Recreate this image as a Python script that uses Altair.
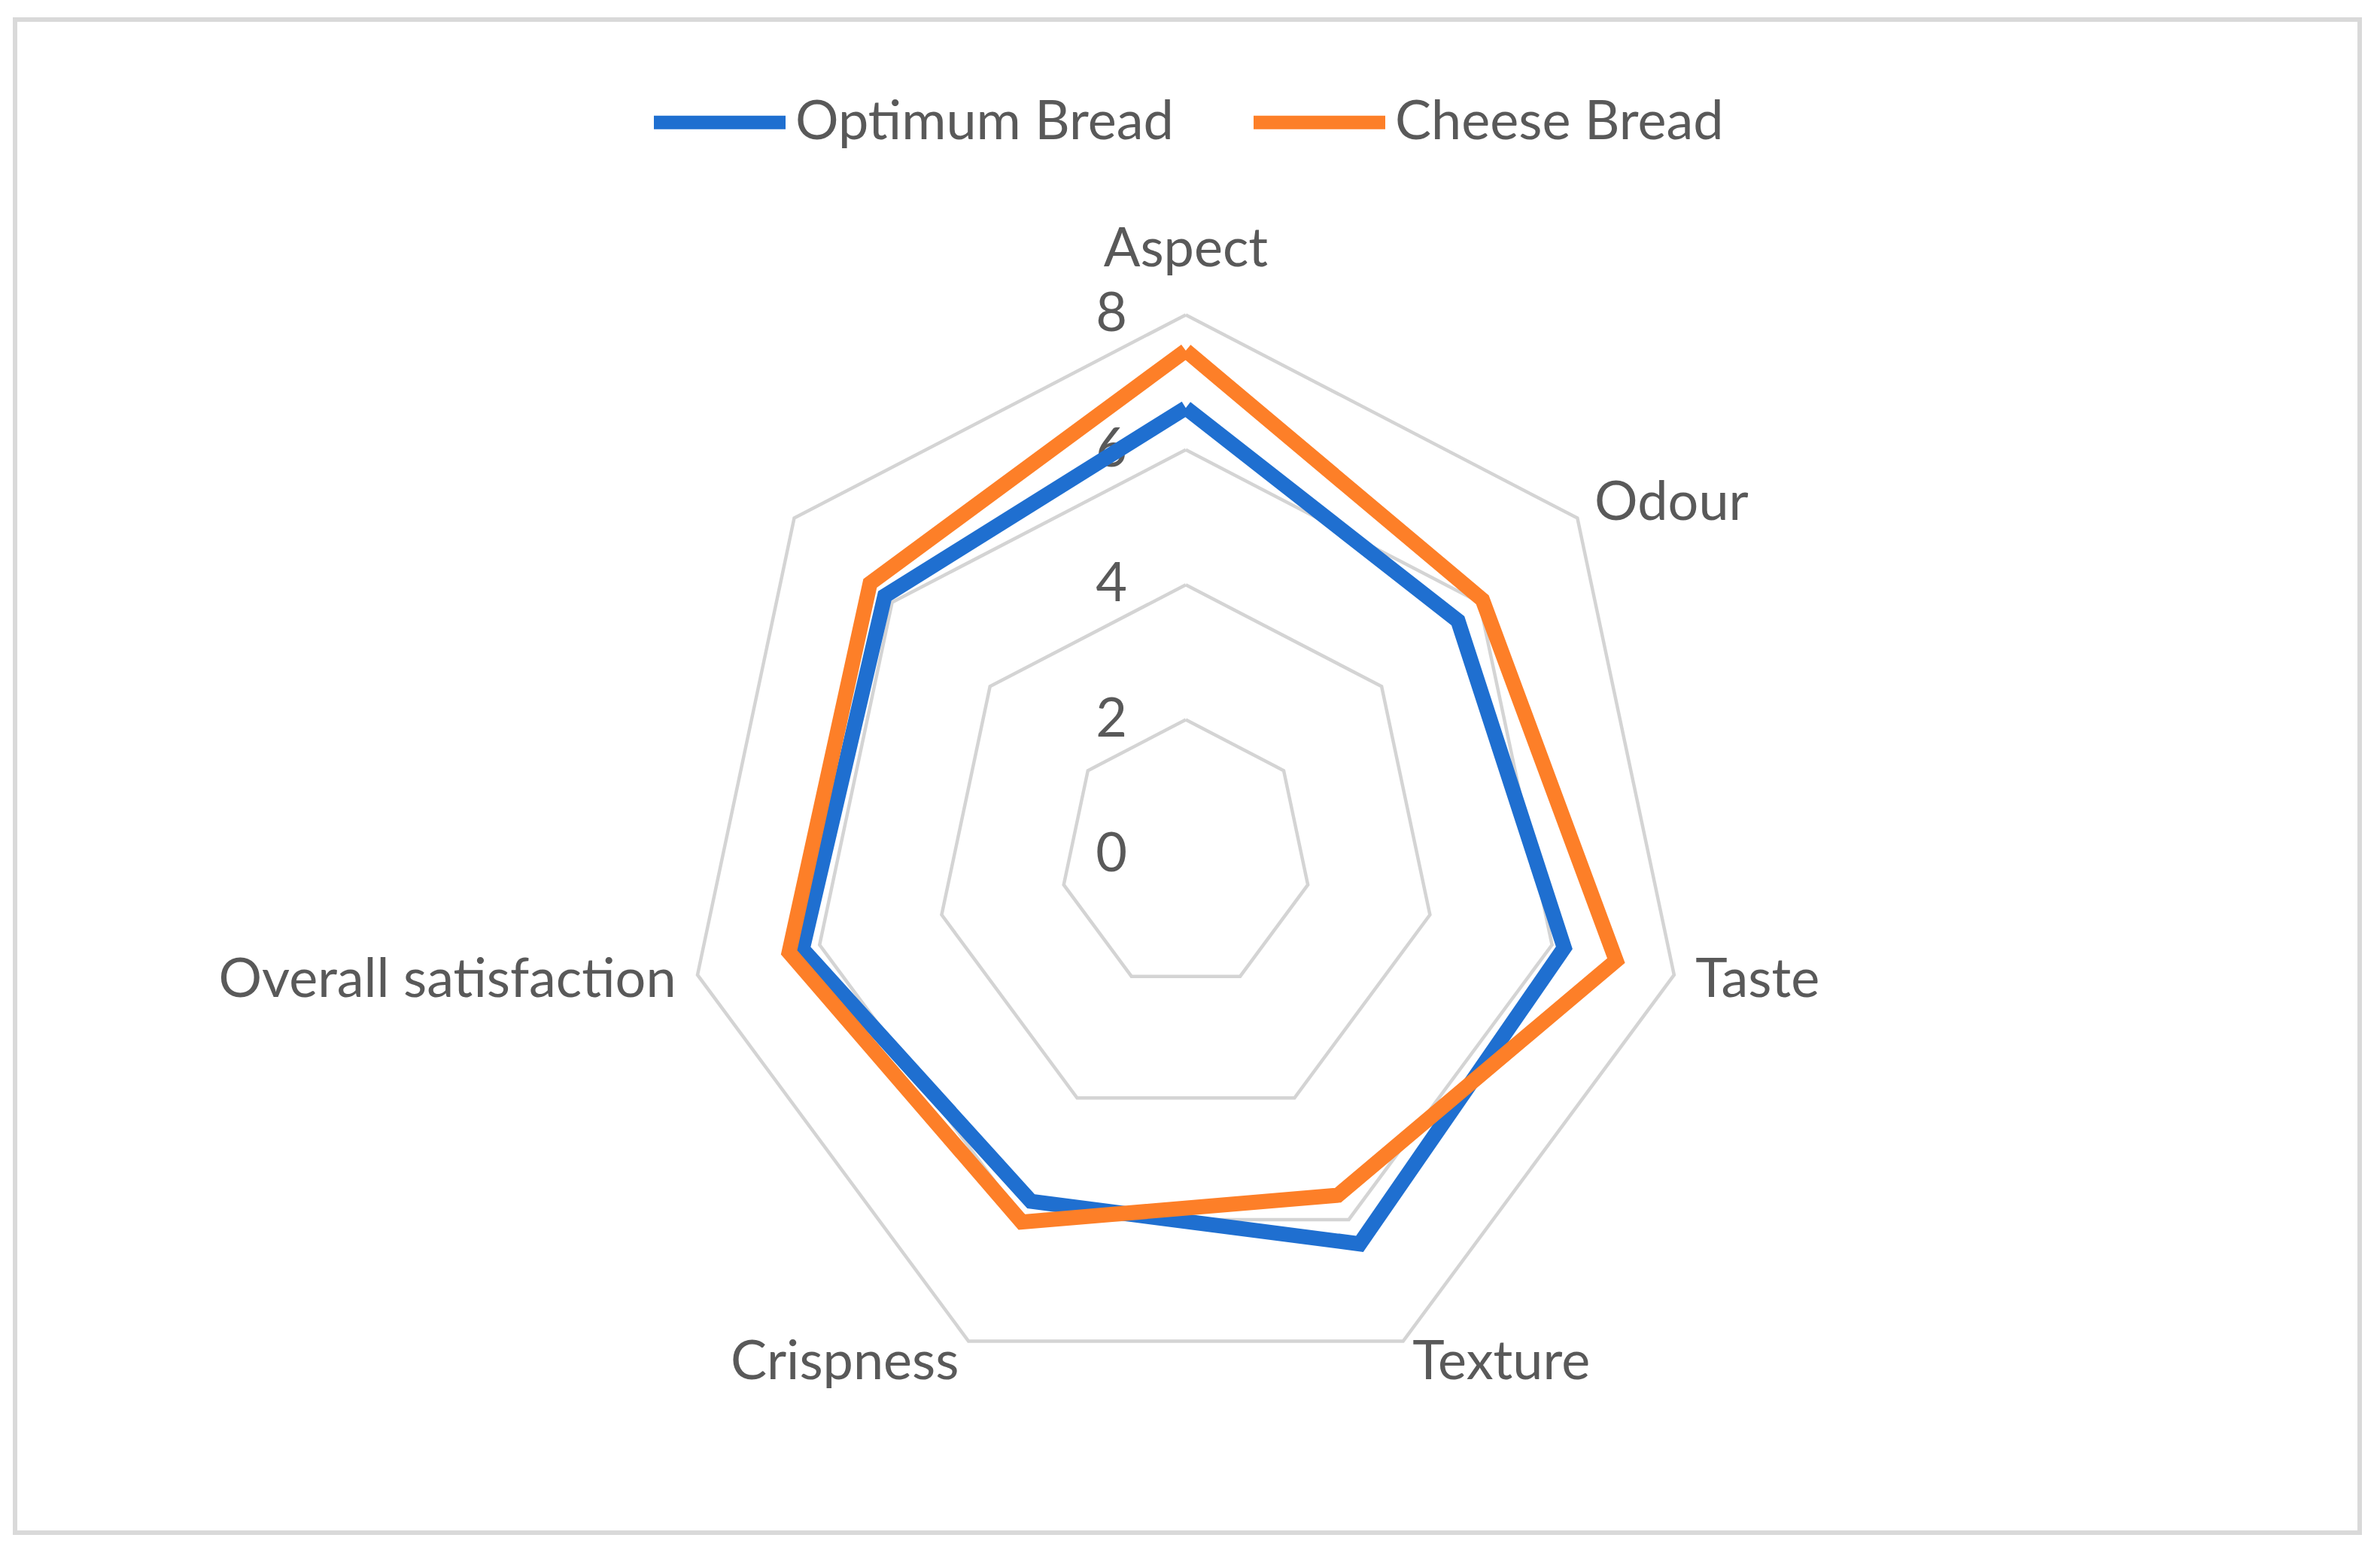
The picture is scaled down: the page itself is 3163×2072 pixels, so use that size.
import math
import pandas as pd
import altair as alt

# ---------------- data ----------------
categories = ["Aspect", "Odour", "Taste", "Texture", "Crispness", "Overall satisfaction", ""]
optimum = [6.62, 5.56, 6.2, 6.4, 5.7, 6.28, 6.15]
cheese = [7.47, 6.06, 7.05, 5.6, 6.04, 6.5, 6.45]
series_names = ["Optimum Bread", "Cheese Bread"]
series_colors = ["#1F6FD0", "#FD7F28"]
ring_values = [2, 4, 6, 8]
tick_values = [0, 2, 4, 6, 8]

# ---------------- geometry helpers ----------------
n = len(categories)
angles = [2 * math.pi * i / n for i in range(n)]
r_max = max(ring_values)
label_r = r_max + 0.35

series_rows = []
for name, vals in zip(series_names, [optimum, cheese]):
    for k in range(n + 1):
        i = k % n
        series_rows.append({
            "series": name, "order": k,
            "x": vals[i] * math.sin(angles[i]),
            "y": vals[i] * math.cos(angles[i]),
        })
series_df = pd.DataFrame(series_rows)

ring_rows = []
for r in ring_values:
    for k in range(n + 1):
        i = k % n
        ring_rows.append({"ring": r, "order": k,
                          "x": r * math.sin(angles[i]),
                          "y": r * math.cos(angles[i])})
ring_df = pd.DataFrame(ring_rows)

label_rows = []
for i, c in enumerate(categories):
    if not c:
        continue
    s = math.sin(angles[i])
    side = "center" if abs(s) < 0.01 else ("left" if s > 0 else "right")
    label_rows.append({"category": c, "side": side,
                       "x": label_r * s, "y": label_r * math.cos(angles[i])})
label_df = pd.DataFrame(label_rows)

tick_df = pd.DataFrame({"tick": tick_values,
                        "x": [t * math.sin(angles[0]) for t in tick_values],
                        "y": [t * math.cos(angles[0]) for t in tick_values]})

# ---------------- scales ----------------
xs = alt.Scale(domain=[-18.70, 18.75], nice=False, zero=False)
ys = alt.Scale(domain=[-10.045, 12.375], nice=False, zero=False)
X = alt.X("x:Q", scale=xs, axis=None)
Y = alt.Y("y:Q", scale=ys, axis=None)

FONT = "Lato"
TXT = "#595959"
FS = 72

rings = alt.Chart(ring_df).mark_line(color="#D4D4D4", strokeWidth=4.5).encode(
    x=X, y=Y, detail="ring:N", order="order:Q")

color = alt.Color(
    "series:N",
    scale=alt.Scale(domain=series_names, range=series_colors),
    legend=alt.Legend(
        title=None, orient="none", legendX=840, legendY=40,
        direction="horizontal", symbolType="stroke", symbolSize=30625,
        symbolStrokeWidth=18, labelFont=FONT, labelFontSize=FS,
        labelColor=TXT, labelOffset=4, labelLimit=2000,
        columnPadding=70, padding=0,
    ),
)

line_opt = alt.Chart(series_df).transform_filter(
    alt.datum.series == series_names[0]
).mark_line(strokeWidth=20, strokeJoin="miter").encode(
    x=X, y=Y, color=color, order="order:Q")
line_che = alt.Chart(series_df).transform_filter(
    alt.datum.series == series_names[1]
).mark_line(strokeWidth=20, strokeJoin="miter").encode(
    x=X, y=Y, color=color, order="order:Q")

def label_layer(side, align, dy):
    return alt.Chart(label_df).transform_filter(
        alt.datum.side == side
    ).mark_text(align=align, baseline="middle", font=FONT, fontSize=FS,
                color=TXT, dy=dy).encode(x=X, y=Y, text="category:N")

lab_c = label_layer("center", "center", -55)
lab_l = label_layer("left", "left", 0)
lab_r = label_layer("right", "right", 0)

ticks = alt.Chart(tick_df).mark_text(
    align="right", baseline="middle", font=FONT, fontSize=FS, color=TXT, dx=-78
).encode(x=X, y=Y, text="tick:Q")

chart = alt.layer(rings, ticks, line_opt, line_che, lab_c, lab_l, lab_r).properties(
    width=3116, height=2011,
    padding={"left": 12, "top": 18, "right": 12, "bottom": 10},
    autosize=alt.AutoSizeParams(type="none"),
    background="white",
).configure_view(stroke="#D9D9D9", strokeWidth=6)

chart.save("out.html", embed_options={"renderer": "svg", "actions": False})
